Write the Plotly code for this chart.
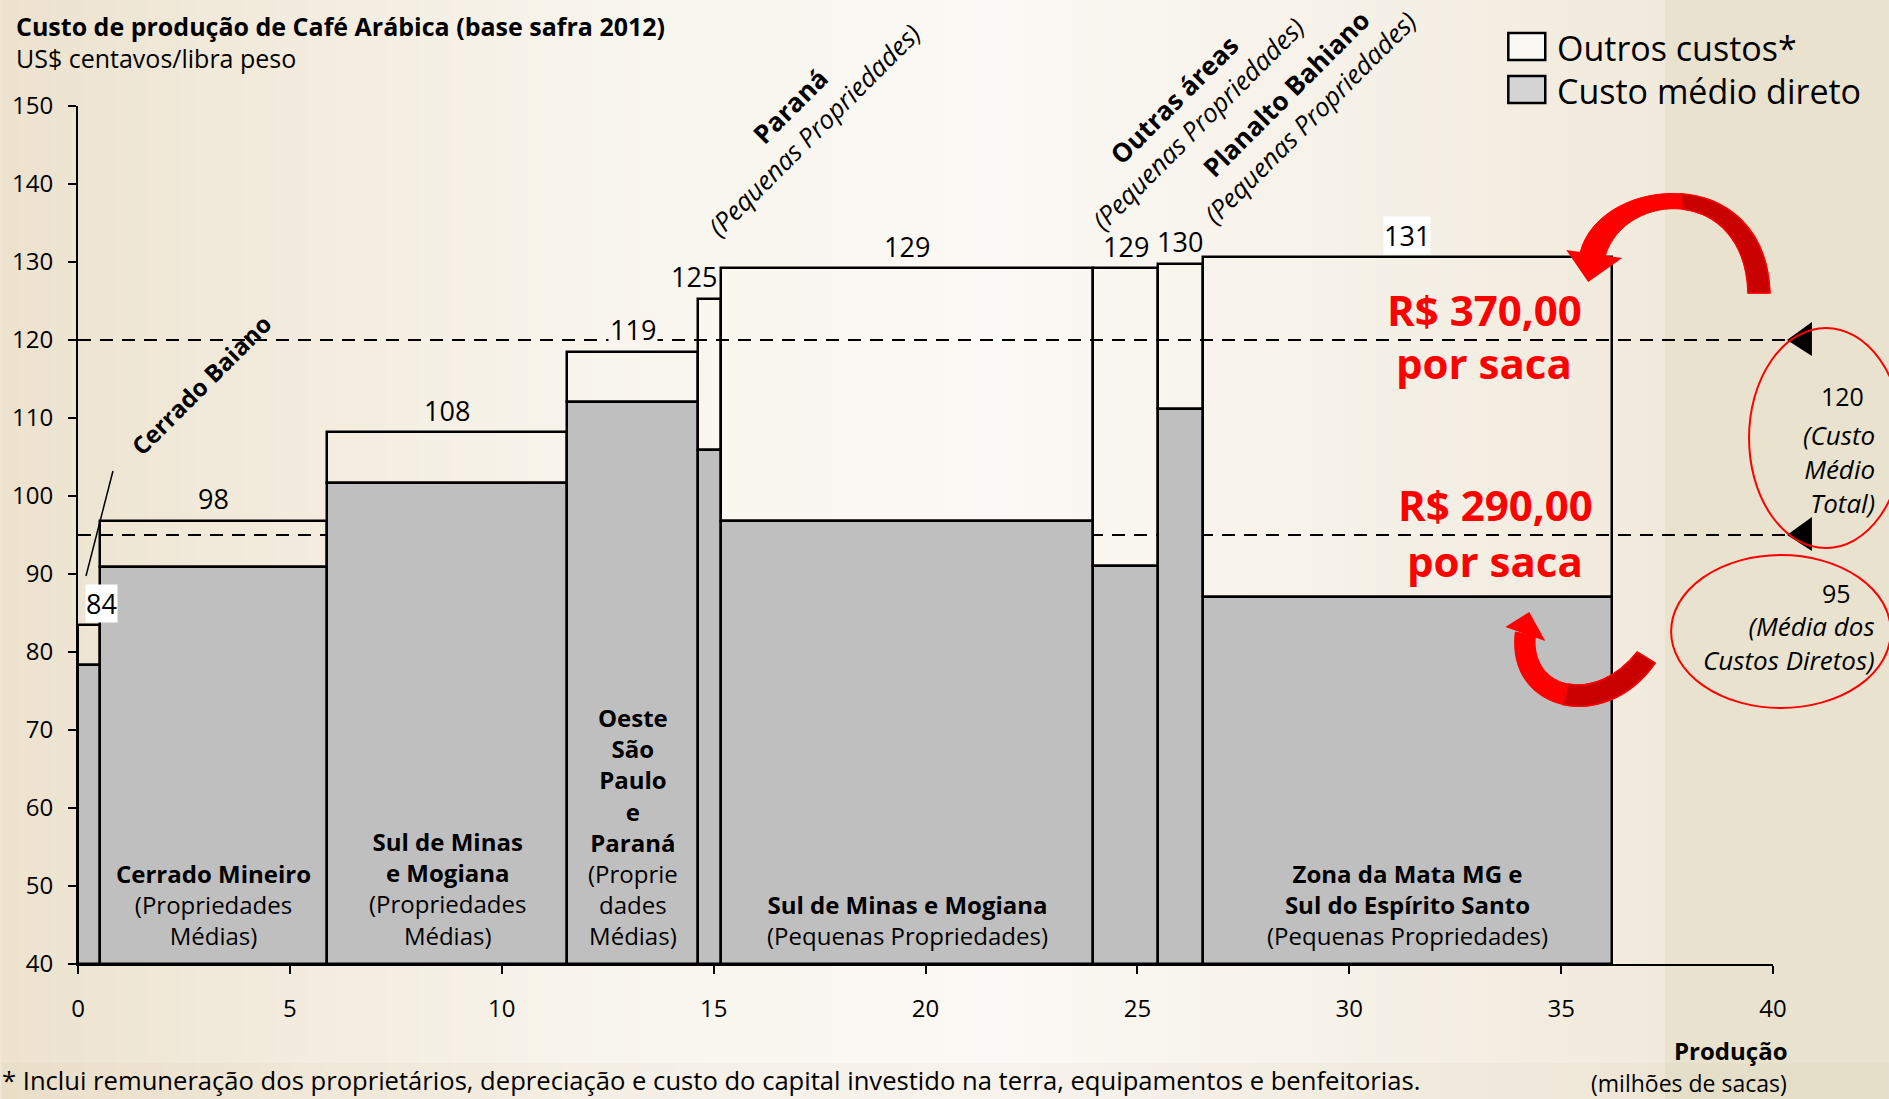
import plotly.graph_objects as go

# ─── DADOS ────────────────────────────────────────────────
regioes = [
    "Cerrado Baiano", "Cerrado Mineiro", "Sul de Minas e Mogiana (Médias)",
    "Oeste SP e Paraná", "Paraná (Pequenas)", "Sul de Minas e Mogiana (Pequenas)",
    "Outras áreas", "Planalto Bahiano", "Zona da Mata MG e Sul do ES",
]
producao = [0.53, 5.35, 5.66, 3.10, 0.53, 8.79, 1.53, 1.05, 9.66]  # milhões de sacas
custo_direto = [78.3, 90.9, 101.7, 112.1, 105.9, 96.8, 91.0, 111.1, 87.0]
custo_total = [83.4, 96.8, 108.2, 118.5, 125.3, 129.2, 129.2, 129.8, 130.6]
rotulos_total = ["84", "98", "108", "119", "125", "129", "129", "130", "131"]
media_total = 120
media_direta = 95
ticks_y = [40, 50, 60, 70, 80, 90, 100, 110, 120, 130, 140, 150]
ticks_x = [0, 5, 10, 15, 20, 25, 30, 35, 40]

# textos dentro das barras (índice da barra -> texto)
textos_barras = {
    1: "<b>Cerrado Mineiro</b><br>(Propriedades<br>Médias)",
    2: "<b>Sul de Minas<br>e Mogiana</b><br>(Propriedades<br>Médias)",
    3: "<b>Oeste<br>São<br>Paulo<br>e<br>Paraná</b><br>(Proprie<br>dades<br>Médias)",
    5: "<b>Sul de Minas e Mogiana</b><br>(Pequenas Propriedades)",
    8: "<b>Zona da Mata MG e<br>Sul do Espírito Santo</b><br>(Pequenas Propriedades)",
}

# ─── LAYOUT EM PIXELS ─────────────────────────────────────
W, H = 1889, 1099
ML, MR, MT, MB = 76, 116, 106, 135
PW, PH = W - ML - MR, H - MT - MB
FONT = "Open Sans"
VERMELHO = "#FF0000"
VERMELHO_ESC = "#C80000"


def px(x):
    return (x - ML) / PW


def py(y):
    return (H - MB - y) / PH


def P(x, y):
    return f"{px(x):.5f},{py(y):.5f}"


def nota(x, y, text, size, xanchor="center", **kw):
    """anotação posicionada em pixels da figura"""
    d = dict(x=px(x), y=py(y), xref="paper", yref="paper", text=text, showarrow=False,
             xanchor=xanchor, yanchor="middle",
             font=dict(family=FONT, color=kw.pop("color", "black"), size=size))
    d.update(kw)
    return d


def caminho(path, fill, line=None):
    return dict(type="path", xref="paper", yref="paper", path=path, fillcolor=fill,
                line=line or dict(width=0))


# gradiente de fundo (bege -> quase branco -> bege)
STOPS = [(0, (236, 226, 206)), (300, (243, 236, 222)), (650, (249, 246, 239)),
         (1000, (251, 249, 245)), (1350, (246, 241, 232)), (1664, (241, 234, 220))]


def cor_fundo(x):
    for (x0, c0), (x1, c1) in zip(STOPS[:-1], STOPS[1:]):
        if x0 <= x <= x1:
            t = (x - x0) / (x1 - x0)
            return tuple(round(a + (b - a) * t) for a, b in zip(c0, c1))
    return STOPS[-1][1]


def rgb(c):
    return f"rgb({c[0]},{c[1]},{c[2]})"


shapes = []
passo = 16
for x in range(0, 1664, passo):
    shapes.append(dict(type="rect", xref="paper", yref="paper", layer="below",
                       x0=px(x), x1=px(min(x + passo + 1, 1665)), y0=py(H), y1=py(0),
                       fillcolor=rgb(cor_fundo(x + passo / 2)), line=dict(width=0)))
shapes.append(dict(type="rect", xref="paper", yref="paper", layer="below",
                   x0=px(1665), x1=px(W), y0=py(H), y1=py(0),
                   fillcolor="rgb(232,226,207)", line=dict(width=0)))
shapes.append(dict(type="rect", xref="paper", yref="paper", layer="below",
                   x0=px(0), x1=px(W), y0=py(H), y1=py(1063),
                   fillcolor="rgba(205,175,135,0.08)", line=dict(width=0)))

# linhas tracejadas das médias
for m in (media_total, media_direta):
    shapes.append(dict(type="line", xref="paper", yref="y", layer="below",
                       x0=0, x1=px(1795), y0=m, y1=m,
                       line=dict(color="black", width=2, dash="13px,9px")))

# triângulos pretos na ponta das linhas
for m in (media_total, media_direta):
    yp = MT + (150 - m) * PH / 110
    shapes.append(caminho(f"M {P(1787, yp)} L {P(1812, yp - 18)} L {P(1812, yp + 16)} Z",
                          "black"))

# elipses vermelhas
shapes.append(dict(type="circle", xref="paper", yref="paper",
                   x0=px(1749), x1=px(1903), y0=py(548), y1=py(328),
                   line=dict(color=VERMELHO, width=2)))
shapes.append(dict(type="circle", xref="paper", yref="paper",
                   x0=px(1671), x1=px(1891), y0=py(708), y1=py(555),
                   line=dict(color=VERMELHO, width=2)))

# setas curvas vermelhas (seta de cima)
shapes.append(caminho(
    f"M {P(1580, 252)} C {P(1600, 175)} {P(1765, 160)} {P(1770, 293)} "
    f"L {P(1748, 293)} C {P(1745, 185)} {P(1625, 190)} {P(1605, 256)} Z",
    VERMELHO, dict(color=VERMELHO, width=1)))
shapes.append(caminho(
    f"M {P(1680.6, 193.8)} C {P(1725, 197)} {P(1767.5, 226.5)} {P(1770, 293)} "
    f"L {P(1748, 293)} C {P(1746.5, 239)} {P(1715.8, 213.3)} {P(1682.9, 209.3)} Z",
    VERMELHO_ESC, dict(color=VERMELHO, width=1.5)))
shapes.append(caminho(f"M {P(1566, 250)} L {P(1622, 258)} L {P(1588, 282)} Z", VERMELHO))
# seta de baixo
shapes.append(caminho(
    f"M {P(1515, 632)} C {P(1505, 712)} {P(1605, 735)} {P(1655, 663)} "
    f"L {P(1637, 652)} C {P(1595, 705)} {P(1530, 690)} {P(1535, 636)} Z",
    VERMELHO, dict(color=VERMELHO, width=1)))
shapes.append(caminho(
    f"M {P(1562.5, 704.5)} C {P(1592.5, 711.3)} {P(1630, 699)} {P(1655, 663)} "
    f"L {P(1637, 652)} C {P(1616, 678.5)} {P(1589.3, 688)} {P(1568.4, 684.1)} Z",
    VERMELHO_ESC, dict(color=VERMELHO, width=1.5)))
shapes.append(caminho(f"M {P(1529, 612)} L {P(1505, 627)} L {P(1545, 641)} Z", VERMELHO))

# linha guia do Cerrado Baiano
shapes.append(dict(type="line", xref="paper", yref="paper",
                   x0=px(84), y0=py(576), x1=px(111), y1=py(471),
                   line=dict(color="black", width=1.5)))

# legenda manual
shapes.append(dict(type="rect", xref="paper", yref="paper",
                   x0=px(1508), x1=px(1545), y0=py(60), y1=py(33),
                   fillcolor="rgb(250,248,242)", line=dict(color="black", width=2.5)))
shapes.append(dict(type="rect", xref="paper", yref="paper",
                   x0=px(1508), x1=px(1545), y0=py(103), y1=py(76),
                   fillcolor="rgb(212,212,212)", line=dict(color="black", width=2.5)))

# ─── BARRAS ───────────────────────────────────────────────
bordas = []
acc = 0
for w in producao:
    acc += w
    bordas.append(acc)
centros = [b - w / 2 for b, w in zip(bordas, producao)]

fig = go.Figure()
fig.add_trace(go.Bar(
    x=centros, y=[d - 40 for d in custo_direto], base=40, width=producao,
    marker=dict(color="#BFBFBF", line=dict(color="black", width=2.5)),
    name="Custo médio direto", hoverinfo="skip", showlegend=False,
))
fig.add_trace(go.Bar(
    x=centros, y=[t - d for t, d in zip(custo_total, custo_direto)], base=custo_direto,
    width=producao,
    marker=dict(color="rgba(0,0,0,0)", line=dict(color="black", width=2.5)),
    name="Outros custos*", hoverinfo="skip", showlegend=False,
))

# ─── ANOTAÇÕES ────────────────────────────────────────────
ann = []
txt = dict(family=FONT, color="black")

for i, (cx, tot, lab) in enumerate(zip(centros, custo_total, rotulos_total)):
    a = dict(x=cx, y=tot, xref="x", yref="y", text=lab, showarrow=False,
             xanchor="center", yanchor="middle", yshift=22, font=dict(txt, size=27))
    if i == 0:
        a.update(xshift=12, bgcolor="white", borderpad=0)
    if i == 4:
        a.update(xshift=-16)
    if i == 3:
        a.update(bgcolor=rgb(cor_fundo(631)), borderpad=1)
    if i == 8:
        a.update(bgcolor="white", borderpad=0)
    ann.append(a)

for i, t in textos_barras.items():
    ann.append(dict(x=centros[i], y=40, xref="x", yref="y", text=t, showarrow=False,
                    xanchor="center", yanchor="bottom", yshift=10, align="center",
                    font=dict(txt, size=24)))

# rótulos inclinados
ann.append(nota(199, 384, "<b>Cerrado Baiano</b>", 24, textangle=-45))
for xc, yc, nome in [(801, 118, "Paraná"), (1185, 112, "Outras áreas"),
                     (1297, 106, "Planalto Bahiano")]:
    ann.append(nota(xc, yc, f"<b>{nome}</b><br><i>(Pequenas Propriedades)</i>", 26,
                    textangle=-45, align="center"))

# textos vermelhos
for xc, yc, t in [(1484, 309, "R$ 370,00"), (1484, 362, "por saca"),
                  (1495, 505, "R$ 290,00"), (1495, 560, "por saca")]:
    ann.append(nota(xc, yc, f"<b>{t}</b>", 42, color=VERMELHO))

# notas à direita
ann.append(nota(1843, 396, str(media_total), 25))
ann.append(nota(1877, 469, "<i>(Custo<br>Médio<br>Total)</i>", 26, xanchor="right",
                align="right"))
ann.append(nota(1837, 593, str(media_direta), 25))
ann.append(nota(1877, 643, "<i>(Média dos<br>Custos Diretos)</i>", 26, xanchor="right",
                align="right"))

# título, subtítulo, legenda, eixo x, nota de rodapé
ann += [
    nota(12, 26, "<b>Custo de produção de Café Arábica (base safra 2012)</b>", 25,
         xanchor="left"),
    nota(12, 58, "US$ centavos/libra peso", 25, xanchor="left"),
    nota(1555, 48, "Outros custos*", 34, xanchor="left"),
    nota(1555, 91, "Custo médio direto", 34, xanchor="left"),
    nota(1789, 1050, "<b>Produção</b>", 24, xanchor="right"),
    nota(1789, 1083, "(milhões de sacas)", 23, xanchor="right"),
    nota(-2, 1080, "* Inclui remuneração dos proprietários, depreciação e custo do capital "
                   "investido na terra, equipamentos e benfeitorias.", 25.6, xanchor="left"),
]

eixo = dict(showline=True, linecolor="black", linewidth=2, ticks="outside",
            ticklen=8, tickwidth=2, tickcolor="black", showgrid=False, zeroline=False,
            tickfont=dict(family=FONT, size=24, color="black"))

fig.update_layout(
    width=W, height=H,
    margin=dict(l=ML, r=MR, t=MT, b=MB, pad=0),
    paper_bgcolor="rgb(239,231,214)",
    plot_bgcolor="rgba(0,0,0,0)",
    barmode="overlay",
    bargap=0,
    showlegend=False,
    shapes=shapes,
    annotations=ann,
    xaxis=dict(eixo, range=[0, 40], tickvals=ticks_x, ticklabelstandoff=14),
    yaxis=dict(eixo, range=[40, 150], tickvals=ticks_y, ticklabelstandoff=10),
)

fig.write_html("out.html", config={"displayModeBar": False},
               post_script="document.body.style.margin='0';")
